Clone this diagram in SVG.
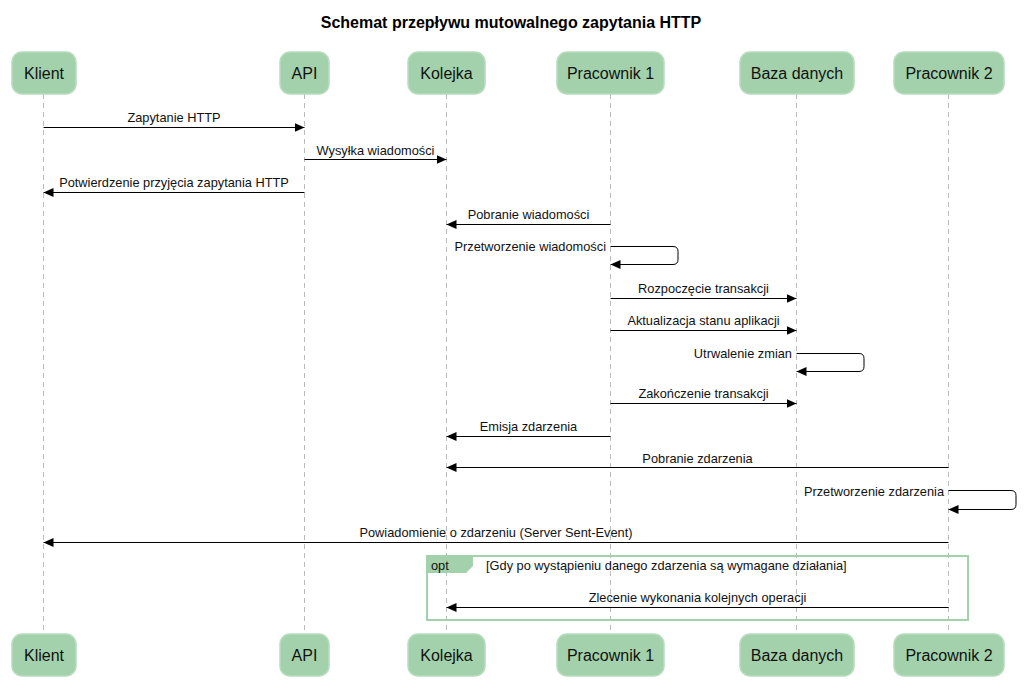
<svg xmlns="http://www.w3.org/2000/svg" width="1035" height="680" viewBox="0 0 1035 680">
<defs>
<marker id="ah" markerWidth="10" markerHeight="9" refX="10" refY="4.5" orient="auto" markerUnits="userSpaceOnUse">
<path d="M0,0 L10,4.5 L0,9 Z" fill="#000"/>
</marker>
<style>
.box{fill:#a3d1ab;stroke:#b8dcbe;stroke-width:1.5}
.ptxt{font-family:"Liberation Sans",Arial,sans-serif;font-size:16px;fill:#111;text-anchor:middle}
.life{stroke:#bbb;stroke-width:1;stroke-dasharray:5,4;fill:none}
.msg{stroke:#000;stroke-width:1;fill:none;marker-end:url(#ah)}
.mtxt{font-family:"Liberation Sans",Arial,sans-serif;font-size:12.8px;fill:#111;text-anchor:middle}
.rtxt{font-family:"Liberation Sans",Arial,sans-serif;font-size:12.8px;fill:#111;text-anchor:end}
.ltxt{font-family:"Liberation Sans",Arial,sans-serif;font-size:12.8px;fill:#111}
.title{font-family:"Liberation Sans",Arial,sans-serif;font-size:16px;font-weight:bold;fill:#000;text-anchor:middle}
</style>
</defs>
<rect width="1035" height="680" fill="#fff"/>
<text class="title" x="511" y="28">Schemat przepływu mutowalnego zapytania HTTP</text>

<g id="lifelines">
<line class="life" x1="43.5" y1="94" x2="43.5" y2="633"/>
<line class="life" x1="304.5" y1="94" x2="304.5" y2="633"/>
<line class="life" x1="446.5" y1="94" x2="446.5" y2="633"/>
<line class="life" x1="610.5" y1="94" x2="610.5" y2="633"/>
<line class="life" x1="796.5" y1="94" x2="796.5" y2="633"/>
<line class="life" x1="948.5" y1="94" x2="948.5" y2="633"/>
</g>

<g id="opt">
<rect x="427" y="556" width="541" height="64" fill="none" stroke="#a3d1ab" stroke-width="2"/>
<path d="M427,556 H473 V566 L466,573 H427 Z" fill="#a3d1ab"/>
<text class="ltxt" x="431" y="569.5">opt</text>
<text class="ltxt" x="486" y="569.5">[Gdy po wystąpieniu danego zdarzenia są wymagane działania]</text>
</g>

<g id="p-klient">
<rect class="box" x="12" y="52" width="64" height="42" rx="10"/>
<text class="ptxt" x="44" y="79">Klient</text>
<rect class="box" x="12" y="634" width="64" height="42" rx="10"/>
<text class="ptxt" x="44" y="661">Klient</text>
</g>
<g id="p-api">
<rect class="box" x="280" y="52" width="49" height="42" rx="10"/>
<text class="ptxt" x="304.5" y="79">API</text>
<rect class="box" x="280" y="634" width="49" height="42" rx="10"/>
<text class="ptxt" x="304.5" y="661">API</text>
</g>
<g id="p-kolejka">
<rect class="box" x="408" y="52" width="77" height="42" rx="10"/>
<text class="ptxt" x="446.5" y="79">Kolejka</text>
<rect class="box" x="408" y="634" width="77" height="42" rx="10"/>
<text class="ptxt" x="446.5" y="661">Kolejka</text>
</g>
<g id="p-pracownik1">
<rect class="box" x="557" y="52" width="107" height="42" rx="10"/>
<text class="ptxt" x="610.5" y="79">Pracownik 1</text>
<rect class="box" x="557" y="634" width="107" height="42" rx="10"/>
<text class="ptxt" x="610.5" y="661">Pracownik 1</text>
</g>
<g id="p-baza">
<rect class="box" x="740" y="52" width="114" height="42" rx="10"/>
<text class="ptxt" x="797" y="79">Baza danych</text>
<rect class="box" x="740" y="634" width="114" height="42" rx="10"/>
<text class="ptxt" x="797" y="661">Baza danych</text>
</g>
<g id="p-pracownik2">
<rect class="box" x="894" y="52" width="110" height="42" rx="10"/>
<text class="ptxt" x="949" y="79">Pracownik 2</text>
<rect class="box" x="894" y="634" width="110" height="42" rx="10"/>
<text class="ptxt" x="949" y="661">Pracownik 2</text>
</g>

<g id="connectors">
<path class="msg" d="M43.5,127.5 H304.5"/>
<text class="mtxt" x="174" y="122">Zapytanie HTTP</text>
<path class="msg" d="M304.5,159.5 H446.5"/>
<text class="mtxt" x="375.5" y="155">Wysyłka wiadomości</text>
<path class="msg" d="M304.5,192.5 H43.5"/>
<text class="mtxt" x="174" y="187">Potwierdzenie przyjęcia zapytania HTTP</text>
<path class="msg" d="M610.5,224.5 H446.5"/>
<text class="mtxt" x="528.5" y="219">Pobranie wiadomości</text>
<path class="msg" d="M610.5,246.5 H673 Q678,246.5 678,251.5 V259.5 Q678,264.5 673,264.5 H610.5"/>
<text class="rtxt" x="606" y="251">Przetworzenie wiadomości</text>
<path class="msg" d="M610.5,298.5 H796.5"/>
<text class="mtxt" x="703.5" y="293">Rozpoczęcie transakcji</text>
<path class="msg" d="M610.5,330.5 H796.5"/>
<text class="mtxt" x="703.5" y="325">Aktualizacja stanu aplikacji</text>
<path class="msg" d="M796.5,353.5 H859 Q864,353.5 864,358.5 V366.5 Q864,371.5 859,371.5 H796.5"/>
<text class="rtxt" x="792" y="358">Utrwalenie zmian</text>
<path class="msg" d="M610.5,403.5 H796.5"/>
<text class="mtxt" x="703.5" y="398">Zakończenie transakcji</text>
<path class="msg" d="M610.5,436.5 H446.5"/>
<text class="mtxt" x="528.5" y="431">Emisja zdarzenia</text>
<path class="msg" d="M948.5,467.5 H446.5"/>
<text class="mtxt" x="697.5" y="463">Pobranie zdarzenia</text>
<path class="msg" d="M948.5,490.5 H1011 Q1016,490.5 1016,495.5 V504.5 Q1016,509.5 1011,509.5 H948.5"/>
<text class="rtxt" x="944" y="496">Przetworzenie zdarzenia</text>
<path class="msg" d="M948.5,542.5 H43.5"/>
<text class="mtxt" x="496" y="537">Powiadomienie o zdarzeniu (Server Sent-Event)</text>
<path class="msg" d="M948.5,607.5 H446.5"/>
<text class="mtxt" x="697.5" y="602">Zlecenie wykonania kolejnych operacji</text>
</g>
</svg>
